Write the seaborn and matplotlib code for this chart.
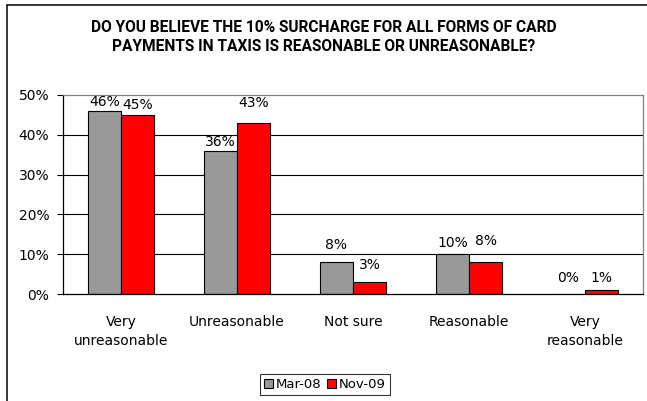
import matplotlib
matplotlib.use("Agg")
import matplotlib.pyplot as plt
from matplotlib.lines import Line2D
import seaborn as sns
import pandas as pd

# Survey answers and share of respondents (%) in each wave
categories = ["Very\nunreasonable", "Unreasonable", "Not sure", "Reasonable", "Very\nreasonable"]
mar_08 = [46, 36, 8, 10, 0]
nov_09 = [45, 43, 3, 8, 1]
series_names = ["Mar-08", "Nov-09"]
y_ticks = [0, 10, 20, 30, 40, 50]

df = pd.DataFrame({
    "answer": categories * 2,
    "share": mar_08 + nov_09,
    "wave": [series_names[0]] * len(categories) + [series_names[1]] * len(categories),
})

sns.set_theme(style="white")
plt.rcParams["font.family"] = ["DejaVu Sans"]
plt.rcParams.update({"text.color": "black", "axes.labelcolor": "black",
                     "xtick.color": "black", "ytick.color": "black"})

fig = plt.figure(figsize=(6.47, 4.01), dpi=100)
ax = fig.add_axes([0.0974, 0.2668, 0.8964, 0.4963])

palette = {"Mar-08": "#999999", "Nov-09": "#ff0000"}
sns.barplot(data=df, x="answer", y="share", hue="wave", order=categories,
            hue_order=series_names, palette=palette, width=0.57,
            edgecolor="black", linewidth=0.8, saturation=1, ax=ax, legend=True)

# value labels above each bar (vertical offset in pixels, per bar)
label_lift_px = {"Mar-08": [9, 9, 17, 11, 16], "Nov-09": [10, 20, 17, 21, 12]}
for container, name in zip(ax.containers, series_names):
    for bar, val, lift in zip(container, mar_08 if name == "Mar-08" else nov_09,
                              label_lift_px[name]):
        ax.annotate(f"{val}%", (bar.get_x() + bar.get_width() / 2, val),
                    xytext=(0, lift * 0.72), textcoords="offset points",
                    ha="center", va="center", fontsize=10, color="black")

ax.set_ylim(0, 50)
ax.set_xlim(-0.5, len(categories) - 0.5)
ax.set_yticks(y_ticks)
ax.set_yticklabels([f"{t}%" for t in y_ticks], fontsize=10)
ax.set_xlabel("")
ax.set_ylabel("")

for t in y_ticks[1:-1]:
    ax.axhline(t, color="black", linewidth=0.8, zorder=0)

ax.set_xticks(range(len(categories)))
ax.set_xticklabels(categories, fontsize=10)
ax.set_xticks([i - 0.5 for i in range(len(categories) + 1)], minor=True)
ax.tick_params(axis="x", which="major", length=0, pad=15, labelcolor="black")
ax.tick_params(axis="x", which="minor", length=5, width=0.8, color="black", direction="out")
ax.tick_params(axis="y", length=4, width=0.8, color="black", direction="out", left=True,
               pad=6, labelcolor="black")
for lbl in ax.get_xticklabels():
    lbl.set_linespacing(1.45)

for side in ("left", "bottom"):
    ax.spines[side].set_color("black")
    ax.spines[side].set_linewidth(0.9)
for side in ("top", "right"):
    ax.spines[side].set_color("#808080")
    ax.spines[side].set_linewidth(0.9)

leg = ax.legend(loc="center", bbox_to_anchor=(0.502, 0.041), bbox_transform=fig.transFigure,
                ncol=2, frameon=True, fancybox=False, edgecolor="black", fontsize=9.5,
                handlelength=0.7, handleheight=0.7, handletextpad=0.2,
                columnspacing=0.4, borderpad=0.3, borderaxespad=0)
leg.get_frame().set_linewidth(0.8)
leg.set_title(None)
for txt in leg.get_texts():
    txt.set_color("black")

fig.text(0.5, 0.9077,
         "DO YOU BELIEVE THE 10% SURCHARGE FOR ALL FORMS OF CARD\n"
         "PAYMENTS IN TAXIS IS REASONABLE OR UNREASONABLE?",
         ha="center", va="center", fontsize=11.2, fontweight="bold", color="black",
         family=["Roboto", "DejaVu Sans"], linespacing=1.3)

# outer chart frame (top and left edges)
fig.add_artist(Line2D([7 / 647, 1.0], [1 - 5 / 401, 1 - 5 / 401],
                      transform=fig.transFigure, color="black", linewidth=1.1))
fig.add_artist(Line2D([7 / 647, 7 / 647], [0.0, 1 - 5 / 401],
                      transform=fig.transFigure, color="black", linewidth=1.1))

fig.savefig("out.png", dpi=100)
